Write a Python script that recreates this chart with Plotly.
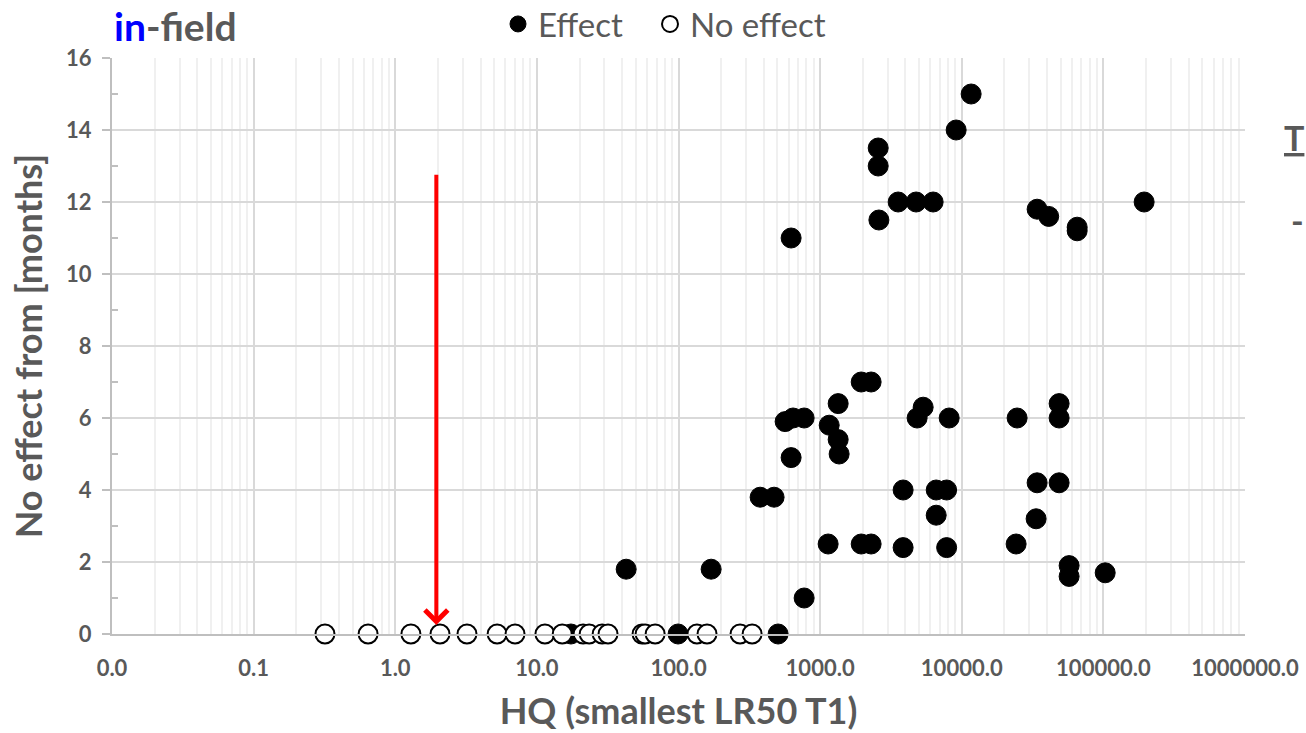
import math
import plotly.graph_objects as go

# ---- data ----
effect_x = [42.7, 170, 771, 377, 473, 624, 566, 644, 771, 624,
            1159, 1341, 1341, 1362, 1139, 1950, 2291, 1950, 2291,
            2570, 2570, 2600, 3556, 4764, 6280, 9130, 11650,
            3855, 3855, 4840, 5340, 6600, 6600, 7820, 7820, 8150,
            24600, 24200, 34050, 33500, 34050, 41100, 48700, 48700, 48700,
            57300, 57300, 65300, 65300, 103000, 194000,
            17.4, 99.3, 505]
effect_y = [1.8, 1.8, 1.0, 3.8, 3.8, 4.9, 5.9, 6.0, 6.0, 11.0,
            5.8, 6.4, 5.4, 5.0, 2.5, 7.0, 7.0, 2.5, 2.5,
            13.5, 13.0, 11.5, 12.0, 12.0, 12.0, 14.0, 15.0,
            4.0, 2.4, 6.0, 6.3, 4.0, 3.3, 4.0, 2.4, 6.0,
            6.0, 2.5, 4.2, 3.2, 11.8, 11.6, 6.4, 6.0, 4.2,
            1.9, 1.6, 11.3, 11.2, 1.7, 12.0,
            0, 0, 0]

noeffect_x = [0.319, 0.643, 1.29, 2.07, 3.21, 5.24, 7.01, 11.4, 15.1,
              21.2, 23.4, 28.9, 31.8, 55.3, 58.1, 68.4, 135, 159, 272, 331]
noeffect_y = [0, 0, 0, 0, 0, 0, 0, 0, 0,
              0, 0, 0, 0, 0, 0, 0, 0, 0, 0, 0]

x_tick_vals = [0.01, 0.1, 1, 10, 100, 1000, 10000, 100000, 1000000]
x_tick_text = ["0.0", "0.1", "1.0", "10.0", "100.0", "1000.0",
               "10000.0", "100000.0", "1000000.0"]
y_tick_vals = [0, 2, 4, 6, 8, 10, 12, 14, 16]
y_minor_vals = [1, 3, 5, 7, 9, 11, 13, 15]

arrow_x = 1.95
arrow_y_top = 12.8
arrow_y_tip = 0.25

# minor log grid values (2..9 per decade)
x_minor_vals = [m * d for d in [0.01, 0.1, 1, 10, 100, 1000, 10000, 100000]
                for m in range(2, 10)]

GREY = "#595959"
FONT = "Lato"

fig = go.Figure()

fig.add_trace(go.Scatter(
    x=effect_x, y=effect_y, mode="markers", name="Effect",
    marker=dict(size=20, color="black", line=dict(color="black", width=1)),
    cliponaxis=False, legend="legend",
))
fig.add_trace(go.Scatter(
    x=noeffect_x, y=noeffect_y, mode="markers", name="No effect",
    marker=dict(size=19, color="white", line=dict(color="black", width=2)),
    cliponaxis=False, legend="legend2",
))

fig.add_annotation(
    x=math.log10(arrow_x), y=arrow_y_tip, ax=math.log10(arrow_x), ay=arrow_y_top,
    xref="x", yref="y", axref="x", ayref="y", text="",
    showarrow=True, arrowhead=4, arrowsize=1.1, arrowwidth=4, arrowcolor="#ff0000",
    standoff=0,
)

fig.add_annotation(
    x=0.0, y=(634 - 26) / 576, xref="paper", yref="paper", xanchor="left",
    yanchor="middle",
    text="<span style='color:#0000ff'>in</span>-field", showarrow=False,
    font=dict(family=FONT, size=39, color=GREY, weight="bold"),
)
fig.add_annotation(
    x=(1306 - 112) / 1133, y=(634 - 137) / 576, xref="paper", yref="paper",
    xanchor="right", yanchor="middle", text="<u>T</u>", showarrow=False,
    font=dict(family=FONT, size=34, color=GREY, weight="bold"),
)
fig.add_annotation(
    x=(1306 - 112) / 1133, y=(634 - 220) / 576, xref="paper", yref="paper",
    xanchor="right", yanchor="middle", text="-", showarrow=False,
    font=dict(family=FONT, size=34, color=GREY, weight="bold"),
)

legend_common = dict(
    orientation="h", y=(634 - 24) / 576, xref="paper", yref="paper",
    xanchor="left", yanchor="middle",
    font=dict(family=FONT, size=33, color=GREY),
    bgcolor="rgba(0,0,0,0)", itemwidth=30,
)

fig.update_layout(
    width=1306, height=733,
    margin=dict(l=112, r=61, t=58, b=99, autoexpand=False),
    paper_bgcolor="white", plot_bgcolor="white",
    font=dict(family=FONT, color=GREY),
    showlegend=True,
    legend=dict(x=(498 - 112) / 1133, **legend_common),
    legend2=dict(x=(650 - 112) / 1133, **legend_common),
    xaxis=dict(
        type="log", range=[-2, 6],
        tickmode="array", tickvals=x_tick_vals, ticktext=x_tick_text,
        tickfont=dict(family=FONT, size=22, color=GREY, weight="bold"),
        ticks="", ticklabelstandoff=14,
        showgrid=True, gridcolor="#d9d9d9", gridwidth=2,
        showline=True, linecolor="#bfbfbf", linewidth=2,
        zeroline=False,
        minor=dict(tickmode="array", tickvals=x_minor_vals, showgrid=True,
                   gridcolor="#f0f0f0", gridwidth=2, ticks=""),
        title=dict(text="HQ (smallest LR50 T1)", standoff=18,
                   font=dict(family=FONT, size=36, color=GREY, weight="bold")),
    ),
    yaxis=dict(
        range=[0, 16],
        tickmode="array", tickvals=y_tick_vals,
        tickfont=dict(family=FONT, size=22, color=GREY, weight="bold"),
        ticks="outside", ticklen=8, tickcolor="#bfbfbf", tickwidth=2,
        ticklabelstandoff=6,
        showgrid=True, gridcolor="#d9d9d9", gridwidth=2,
        showline=True, linecolor="#bfbfbf", linewidth=2,
        zeroline=False,
        minor=dict(tickmode="array", tickvals=y_minor_vals, ticks="inside",
                   ticklen=6, tickcolor="#bfbfbf", tickwidth=2, showgrid=False),
        title=dict(text="No effect from [months]", standoff=12,
                   font=dict(family=FONT, size=36, color=GREY, weight="bold")),
    ),
)

fig.write_html("out.html")
